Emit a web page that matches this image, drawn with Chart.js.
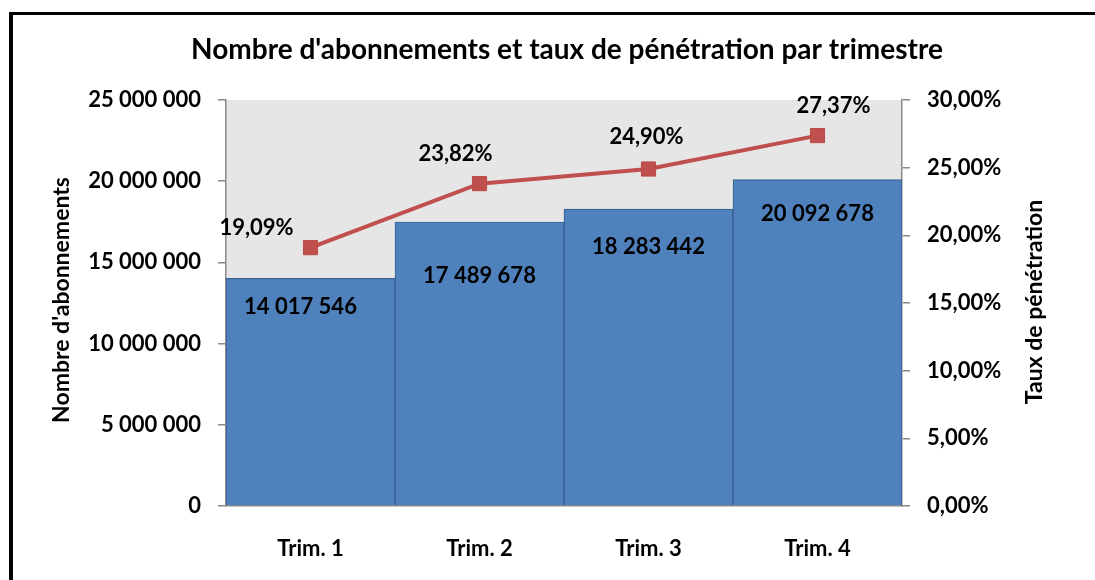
<!DOCTYPE html>
<html><head><meta charset="utf-8">
<script src="https://cdn.jsdelivr.net/npm/chart.js@4.4.1/dist/chart.umd.min.js"></script>
<style>html,body{margin:0;padding:0;background:#fff;}#wrap{width:1095px;height:580px;position:relative;}</style>
</head><body><div id="wrap"><canvas id="c" width="1095" height="580"></canvas></div>
<script>
const categories = ["Trim. 1", "Trim. 2", "Trim. 3", "Trim. 4"];
const abonnements = [14017546, 17489678, 18283442, 20092678];
const tauxPenetration = [19.09, 23.82, 24.90, 27.37];
const chartTitle = "Nombre d'abonnements et taux de pénétration par trimestre";
const leftTitle = "Nombre d'abonnements";
const rightTitle = "Taux de pénétration";

const FONT = "Lato, 'Open Sans', sans-serif";
const fmtNum = v => String(Math.round(v)).replace(/\B(?=(\d{3})+(?!\d))/g, ' ');
const fmtPct = v => v.toFixed(2).replace('.', ',') + '%';

const decor = {
  id: 'decor',
  beforeDraw(chart) {
    const {ctx, chartArea: a} = chart;
    ctx.save();
    ctx.fillStyle = '#fff';
    ctx.fillRect(0, 0, chart.width, chart.height);
    ctx.fillStyle = '#E6E6E6';
    ctx.fillRect(a.left, a.top, a.right - a.left, a.bottom - a.top);
    ctx.fillStyle = '#000';
    ctx.fillRect(9, 12, chart.width - 9, 3);
    ctx.fillRect(9, 12, 4, chart.height - 12);
    ctx.restore();
  },
  afterDraw(chart) {
    const {ctx} = chart;
    ctx.save();
    ctx.fillStyle = '#000';
    ctx.textAlign = 'center';
    ctx.textBaseline = 'middle';
    ctx.font = "bold 28px " + FONT;
    ctx.fillText(chartTitle, 567, 50);
    ctx.font = "bold 23px " + FONT;
    ctx.save(); ctx.translate(62, 300); ctx.rotate(-Math.PI/2); ctx.fillText(leftTitle, 0, 0); ctx.restore();
    ctx.save(); ctx.translate(1035, 302); ctx.rotate(-Math.PI/2); ctx.fillText(rightTitle, 0, 0); ctx.restore();
    // data labels
    ctx.font = "bold 22px " + FONT;
    const barOff = [[-10, 29], [0, 54], [0, 38], [0, 34]];
    const lineOff = [[-54, -20], [-24, -30], [-2, -32], [16, -30]];
    chart.getDatasetMeta(1).data.forEach((el, i) => {
      ctx.fillText(fmtNum(abonnements[i]), el.x + barOff[i][0], el.y + barOff[i][1]);
    });
    chart.getDatasetMeta(0).data.forEach((el, i) => {
      ctx.fillText(fmtPct(tauxPenetration[i]), el.x + lineOff[i][0], el.y + lineOff[i][1]);
    });
    ctx.restore();
  }
};

const tickFont = {family: FONT, size: 22, weight: 'bold'};
new Chart(document.getElementById('c'), {
  data: {
    labels: categories,
    datasets: [
      {type: 'line', label: 'Taux', data: tauxPenetration, yAxisID: 'y2', order: 0,
       borderColor: '#C0504D', backgroundColor: '#C0504D', borderWidth: 4,
       pointStyle: 'rect', pointRadius: 10, pointBorderWidth: 1, pointBorderColor: '#B84A47', tension: 0},
      {type: 'bar', label: 'Abonnements', data: abonnements, yAxisID: 'y', order: 1,
       backgroundColor: '#4F81BD', borderColor: '#3A6496', borderWidth: 1.2,
       barPercentage: 1, categoryPercentage: 1}
    ]
  },
  options: {
    responsive: false, animation: false, devicePixelRatio: 1,
    layout: {padding: {top: 100, left: 0, right: 0, bottom: 0}},
    plugins: {legend: {display: false}, tooltip: {enabled: false}, title: {display: false}},
    scales: {
      x: {
        grid: {display: false, drawTicks: false},
        border: {display: true, color: '#8A8A8A', width: 1.5},
        ticks: {font: tickFont, color: '#000', padding: 30},
        afterFit(s) { s.height = 74; }
      },
      y: {
        position: 'left', min: 0, max: 25000000,
        ticks: {stepSize: 5000000, font: tickFont, color: '#000', padding: 17, callback: v => fmtNum(v)},
        grid: {drawOnChartArea: false, tickLength: 8, color: '#8A8A8A', lineWidth: 1.5},
        border: {color: '#8A8A8A', width: 1.5},
        afterFit(s) { s.width = 226; }
      },
      y2: {
        position: 'right', min: 0, max: 30,
        ticks: {stepSize: 5, font: tickFont, color: '#000', padding: 17, callback: v => fmtPct(v)},
        grid: {drawOnChartArea: false, tickLength: 8, color: '#8A8A8A', lineWidth: 1.5},
        border: {color: '#8A8A8A', width: 1.5},
        afterFit(s) { s.width = 193; }
      }
    }
  },
  plugins: [decor]
});
</script></body></html>
